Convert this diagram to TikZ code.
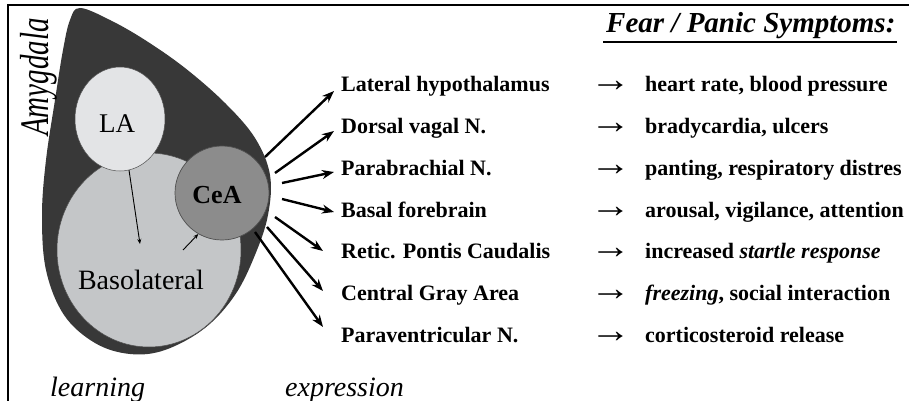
\documentclass[tikz,border=0pt]{standalone}
\usepackage{fontspec}
\setmainfont{Liberation Serif}
\usetikzlibrary{arrows.meta,shapes.geometric,calc}
\definecolor{amydark}{HTML}{383838}
\definecolor{blfill}{HTML}{C4C6C8}
\definecolor{lafill}{HTML}{E3E4E6}
\definecolor{ceafill}{HTML}{8C8C8C}
\definecolor{rimgray}{HTML}{505050}
\begin{document}
\begin{tikzpicture}[x=1pt,y=-1pt,
  txt/.style={anchor=base west,inner sep=0pt},
  lbl/.style={txt,font=\fontsize{22}{26}\selectfont\bfseries},
  sym/.style={txt,font=\fontsize{22}{26}\selectfont\bfseries},
  rarr/.style={txt,font=\fontsize{24}{26}\selectfont},
  foot/.style={txt,font=\fontsize{28}{32}\selectfont\itshape},
  proj/.style={line width=2.4pt,-{Stealth[length=12pt,width=9pt]}},
  inner/.style={line width=0.9pt,-{Stealth[length=5pt,width=4pt]}}]
\useasboundingbox (0,0) rectangle (909,401);
% frame
\draw[line width=1.4pt] (8,401) -- (8,5) -- (909,5);
% amygdala body
\fill[amydark] plot[smooth cycle,tension=0.6] coordinates {
 (80,8) (110,20) (145,40) (185,68) (225,103) (255,138) (270,175) (268,215)
 (255,255) (235,295) (205,328) (165,350) (130,354) (95,343) (64,315) (46,270)
 (42,215) (46,160) (55,100) (63,50) (70,20)};
\node[ellipse,draw=rimgray,line width=0.5pt,fill=blfill,minimum width=184pt,minimum height=194pt,inner sep=0pt] (BL) at (149,250) {};
\node[ellipse,draw=rimgray,line width=0.5pt,fill=lafill,minimum width=90pt,minimum height=104pt,inner sep=0pt] (LA) at (120,119) {};
\node[circle,draw=rimgray,line width=0.7pt,fill=ceafill,minimum size=94pt,inner sep=0pt] (CeA) at (222,193) {};
\node[font=\fontsize{27}{30}\selectfont,inner sep=0pt] (LAt) at (117,124) {LA};
\node[font=\fontsize{26}{30}\selectfont\bfseries,inner sep=0pt] (CeAt) at (217,195) {CeA};
\node[font=\fontsize{28}{32}\selectfont,inner sep=0pt] (BLt) at (141,280) {Basolateral};
\node[rotate=90,anchor=base west,inner sep=0pt,font=\fontsize{29}{32}\selectfont\itshape] (amy) at (48,136) {\scalebox{1}[1.4]{Amygdala}};
% internal arrows
\coordinate (b1) at (140,244);
\coordinate (b2) at (183,250);
\draw[inner] (LA.-80) -- (b1);
\draw[inner] (b2) -- (CeA.-120);
% labels
\node[lbl] (L1) at (341,92) {Lateral hypothalamus};
\node[lbl] (L2) at (341,133.7) {Dorsal vagal N.};
\node[lbl] (L3) at (341,175.4) {Parabrachial N.};
\node[lbl] (L4) at (341,217.1) {Basal forebrain};
\node[lbl] (L5) at (341,258.8) {Retic. Pontis Caudalis};
\node[lbl] (L6) at (341,300.5) {Central Gray Area};
\node[lbl] (L7) at (341,342.2) {Paraventricular N.};
% projection arrows
\coordinate (s1) at (265,157); \coordinate (t1) at (334,91);
\coordinate (s2) at (275,173); \coordinate (t2) at (334,131);
\coordinate (s3) at (282,183); \coordinate (t3) at (334,172);
\coordinate (s4) at (282,199); \coordinate (t4) at (334,212);
\coordinate (s5) at (275,217); \coordinate (t5) at (323,251);
\coordinate (s6) at (267,227); \coordinate (t6) at (323,291);
\coordinate (s7) at (255,232); \coordinate (t7) at (323,327);
\foreach \i in {1,...,7} {\draw[proj] (s\i) -- (t\i);}
% symptoms
\foreach \i/\y in {1/92,2/133.7,3/175.4,4/217.1,5/258.8,6/300.5,7/342.2}
  {\node[rarr] (A\i) at (590,\y) {\scalebox{1.7}[1.5]{→}};}
\node[sym] (S1) at (645,92) {heart rate, blood pressure};
\node[sym] (S2) at (645,133.7) {bradycardia, ulcers};
\node[sym] (S3) at (645,175.4) {panting, respiratory distres};
\node[sym] (S4) at (645,217.1) {arousal, vigilance, attention};
\node[sym] (S5) at (645,258.8) {increased \textit{startle response}};
\node[sym] (S6) at (645,300.5) {\textit{freezing}, social interaction};
\node[sym] (S7) at (645,342.2) {corticosteroid release};
% title
\node[txt,font=\fontsize{29}{32}\selectfont\bfseries\itshape] (T) at (606,33) {Fear / Panic Symptoms:};
\draw[line width=2pt] ([xshift=-3pt,yshift=-9pt]T.base west) -- ([xshift=1pt,yshift=-9pt]T.base east);
% footer
\node[foot] (learn) at (50,396) {learning};
\node[foot] (expr) at (285,396) {expression};
\end{tikzpicture}
\end{document}
